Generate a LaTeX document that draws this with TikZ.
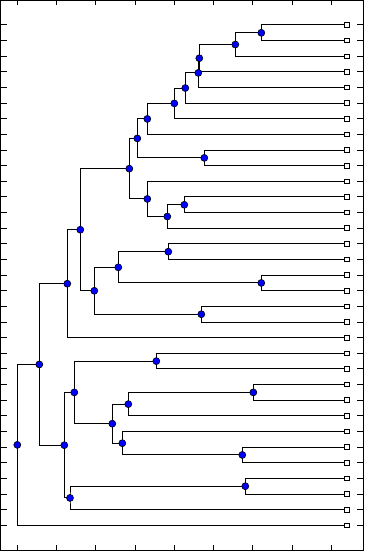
\documentclass[tikz,border=0pt]{standalone}
\usetikzlibrary{backgrounds}
\begin{document}
\begin{tikzpicture}[x=1pt,y=-1pt,
  edge/.style={draw=black,line width=1pt},
  leaf/.style={draw=black,fill=white,rectangle,minimum size=4.6pt,inner sep=0pt,line width=0.9pt},
  joint/.style={draw=black,fill=blue,circle,minimum size=7pt,inner sep=0pt,line width=0.6pt},
  tickmark/.style={draw=black,line width=1pt},
  frame/.style={draw=black,line width=1pt}]
\useasboundingbox (0,0) rectangle (364,551);
% leaves
\foreach \i in {0,...,32} {
  \node[leaf] (l\i) at (346.7,{25+15.634*\i}) {};
}
% internal nodes
\node[joint] (n1) at (261.3,32.82) {};
\node[joint] (n2) at (235.3,44.54) {};
\node[joint] (n3) at (199.3,58.22) {};
\node[joint] (n4) at (198.3,72.88) {};
\node[joint] (n5) at (185.3,88.03) {};
\node[joint] (n6) at (174.3,103.41) {};
\node[joint] (n7) at (147.3,118.93) {};
\node[joint] (n8) at (204.3,157.89) {};
\node[joint] (n9) at (137.3,138.41) {};
\node[joint] (n10) at (184.3,204.79) {};
\node[joint] (n11) at (167.3,216.52) {};
\node[joint] (n12) at (147.3,198.93) {};
\node[joint] (n13) at (129.3,168.67) {};
\node[joint] (n14) at (168.3,251.70) {};
\node[joint] (n15) at (261.3,282.96) {};
\node[joint] (n16) at (118.3,267.33) {};
\node[joint] (n17) at (201.3,314.23) {};
\node[joint] (n18) at (94.3,290.78) {};
\node[joint] (n19) at (80.3,229.73) {};
\node[joint] (n20) at (67.3,283.71) {};
\node[joint] (n21) at (156.3,361.13) {};
\node[joint] (n22) at (253.3,392.40) {};
\node[joint] (n23) at (128.3,404.13) {};
\node[joint] (n24) at (242.3,454.94) {};
\node[joint] (n25) at (122.3,443.21) {};
\node[joint] (n26) at (112.3,423.67) {};
\node[joint] (n27) at (74.3,392.40) {};
\node[joint] (n28) at (245.3,486.21) {};
\node[joint] (n29) at (70.0,497.93) {};
\node[joint] (n30) at (64.3,445.17) {};
\node[joint] (n31) at (39.3,364.44) {};
\node[joint] (n32) at (17.3,444.87) {};
% connectors
\begin{scope}[on background layer]
\foreach \p/\a/\b in {n1/l0/l1, n2/n1/l2, n3/n2/l3, n4/n3/l4, n5/n4/l5, n6/n5/l6,
  n7/n6/l7, n8/l8/l9, n9/n7/n8, n10/l11/l12, n11/n10/l13, n12/l10/n11, n13/n9/n12,
  n14/l14/l15, n15/l16/l17, n16/n14/n15, n17/l18/l19, n18/n16/n17, n19/n13/n18,
  n20/n19/l20, n21/l21/l22, n22/l23/l24, n23/n22/l25, n24/l27/l28, n25/l26/n24,
  n26/n23/n25, n27/n21/n26, n28/l29/l30, n29/n28/l31, n30/n27/n29, n31/n20/n30,
  n32/n31/l32} {
  \draw[edge] (\a.center) -| (\p.center) |- (\b.center);
}
\end{scope}
% frame and ticks
\draw[frame] (0.5,0.5) rectangle (363.5,550.5);
\foreach \i in {0,...,32} {
  \draw[tickmark] (0,{25+15.634*\i}) -- (6.7,{25+15.634*\i});
  \draw[tickmark] (357.3,{25+15.634*\i}) -- (364,{25+15.634*\i});
}
\foreach \k in {0,...,8} {
  \draw[tickmark] ({17.3+39.25*\k},0) -- ({17.3+39.25*\k},5.5);
  \draw[tickmark] ({17.3+39.25*\k},545) -- ({17.3+39.25*\k},551);
}
\end{tikzpicture}
\end{document}
